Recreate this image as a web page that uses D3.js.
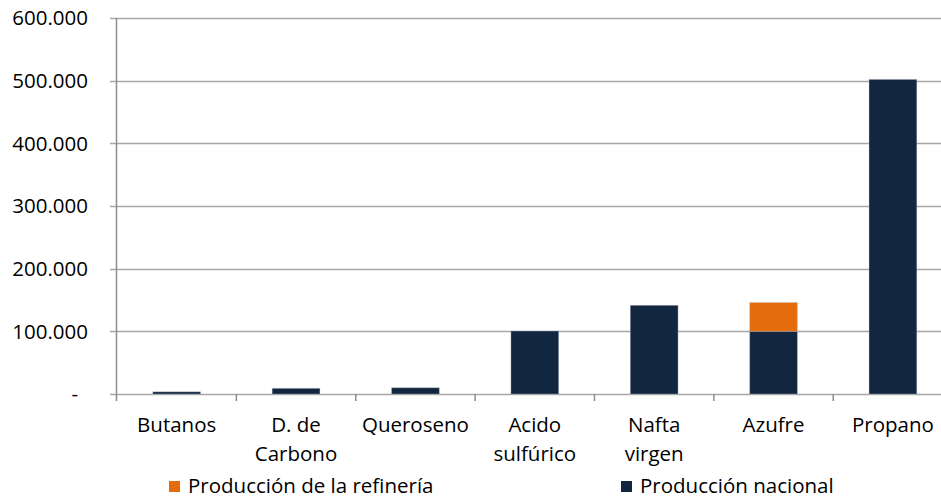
<!DOCTYPE html>
<html>
<head>
<meta charset="utf-8">
<script src="https://cdn.jsdelivr.net/npm/d3@7/dist/d3.min.js"></script>
<style>
  html, body { margin: 0; padding: 0; background: #fff; }
  svg { display: block; font-family: "Open Sans", Lato, sans-serif; }
</style>
</head>
<body>
<svg id="chart" width="941" height="499"></svg>
<script>
// Production by product (tonnes)
const categories = ["Butanos", "D. de Carbono", "Queroseno", "Acido sulfúrico", "Nafta virgen", "Azufre", "Propano"];
const produccionNacional = [3500, 9000, 10000, 100500, 141500, 100000, 502000];
const produccionRefineria = [0, 0, 0, 0, 0, 46000, 0];
const yTicks = [0, 100000, 200000, 300000, 400000, 500000, 600000];
const seriesNames = ["Producción de la refinería", "Producción nacional"];
const seriesColors = ["#E46C0A", "#12263F"];

const svg = d3.select("#chart");
const plotLeft = 117, plotRight = 952.6, plotTop = 18, plotBottom = 394;
const fontSize = 20.5;

const rows = categories.map((c, i) => ({
  cat: c,
  nacional: produccionNacional[i],
  refineria: produccionRefineria[i]
}));

const x = d3.scaleBand().domain(categories).range([plotLeft, plotRight])
  .paddingInner(0.6).paddingOuter(0.3);
const xCell = d3.scaleBand().domain(categories).range([plotLeft, plotRight]).padding(0);
const y = d3.scaleLinear().domain([0, 600000]).range([plotBottom, plotTop]);

const fmt = v => v === 0 ? "-" : d3.format(",.0f")(v).replace(/,/g, ".");

// horizontal gridlines with outward ticks
const gridColor = "#A6A6A6";
svg.append("g").selectAll("line").data(yTicks).join("line")
  .attr("x1", plotLeft - 7).attr("x2", 941)
  .attr("y1", d => Math.round(y(d)) + 0.5).attr("y2", d => Math.round(y(d)) + 0.5)
  .attr("stroke", gridColor).attr("stroke-width", 1.5);

// y axis labels
svg.append("g").selectAll("text").data(yTicks).join("text")
  .attr("x", d => d === 0 ? 78 : 88)
  .attr("y", d => y(d))
  .attr("dy", "0.36em")
  .attr("text-anchor", "end")
  .attr("font-size", fontSize)
  .attr("fill", "#000")
  .text(fmt);

// y axis line
svg.append("line")
  .attr("x1", plotLeft - 0.5).attr("x2", plotLeft - 0.5)
  .attr("y1", plotTop).attr("y2", plotBottom + 7)
  .attr("stroke", "#8C8C8C").attr("stroke-width", 1.5);

// category boundary ticks
svg.append("g").selectAll("line").data(categories.slice(1)).join("line")
  .attr("x1", d => xCell(d)).attr("x2", d => xCell(d))
  .attr("y1", plotBottom).attr("y2", plotBottom + 7)
  .attr("stroke", "#8C8C8C").attr("stroke-width", 1.5);

// stacked bars
const stack = d3.stack().keys(["nacional", "refineria"]);
const layers = stack(rows);
const colorByKey = { nacional: seriesColors[1], refineria: seriesColors[0] };
svg.append("g").selectAll("g").data(layers).join("g")
  .attr("fill", d => colorByKey[d.key])
  .selectAll("rect").data(d => d.filter(p => p[1] - p[0] > 0)).join("rect")
  .attr("x", d => x(d.data.cat))
  .attr("width", x.bandwidth())
  .attr("y", d => y(d[1]))
  .attr("height", d => y(d[0]) - y(d[1]))
  .attr("stroke", "rgba(190,196,208,0.35)")
  .attr("stroke-width", 1);

// category labels, wrapped to the cell width
const labelG = svg.append("g").attr("font-size", fontSize).attr("fill", "#000").attr("text-anchor", "middle");
categories.forEach(c => {
  const cx = xCell(c) + xCell.bandwidth() / 2;
  const t = labelG.append("text").attr("x", cx).attr("y", 432);
  const words = c.split(" ");
  let line = [];
  let lineNo = 0;
  let tspan = t.append("tspan").attr("x", cx).attr("y", 432);
  words.forEach(w => {
    line.push(w);
    tspan.text(line.join(" "));
    if (tspan.node().getComputedTextLength() > 112 && line.length > 1) {
      line.pop();
      tspan.text(line.join(" "));
      line = [w];
      lineNo++;
      tspan = t.append("tspan").attr("x", cx).attr("y", 432 + lineNo * 29).text(w);
    }
  });
});

// legend
const legendX = [169, 621];
const legend = svg.append("g").selectAll("g").data(seriesNames).join("g")
  .attr("transform", (d, i) => `translate(${legendX[i]},481)`);
legend.append("rect").attr("width", 11).attr("height", 11)
  .attr("fill", (d, i) => seriesColors[i]);
legend.append("text").attr("x", 19).attr("y", 12)
  .attr("font-size", fontSize).attr("fill", "#000").text(d => d);
</script>
</body>
</html>
